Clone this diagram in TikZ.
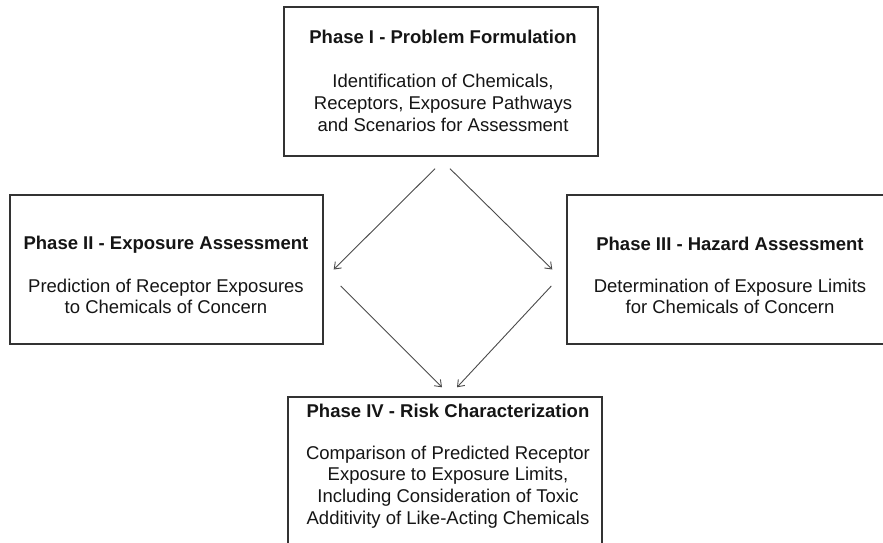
\documentclass[tikz,border=0pt]{standalone}
\usepackage{fontspec}
\setmainfont{Liberation Sans}
\usetikzlibrary{arrows.meta}
\definecolor{boxgray}{HTML}{333333}
\definecolor{arrgray}{HTML}{4A4A4A}
\definecolor{txtgray}{HTML}{151515}
\begin{document}
\begin{tikzpicture}[x=1pt,y=1pt,
  box/.style={draw=boxgray, line width=1.4pt, inner sep=0pt},
  txt/.style={anchor=base, inner sep=0pt, text=txtgray, font=\fontsize{18.5}{21.7}\selectfont},
  arr/.style={draw=arrgray, line width=0.9pt, -{Straight Barb[length=6pt,width=9pt]}}]
\useasboundingbox (0,0) rectangle (883,-543);
\fill[white] (0,0) rectangle (883,-543);
\clip (0,0) rectangle (883,-543);
% boxes
\node[box, minimum width=314pt, minimum height=149pt] (T) at (441,-81.5) {};
\node[box, minimum width=313pt, minimum height=149pt] (L) at (166.5,-269.5) {};
\node[box, minimum width=326pt, minimum height=149pt] (R) at (730,-269.5) {};
\node[box, minimum width=314pt, minimum height=160pt] (B) at (445,-477) {};
% texts
\node[txt] (Tt) at (443,-44) {\begin{tabular}[t]{@{}c@{}}\textbf{Phase I - Problem Formulation}\\[22.3pt]
Identification of Chemicals,\\ Receptors, Exposure Pathways\\ and Scenarios for Assessment\end{tabular}};
\node[txt] (Lt) at (166,-249) {\begin{tabular}[t]{@{}c@{}}\textbf{Phase II - Exposure Assessment}\\[21.3pt]
Prediction of Receptor Exposures\\ to Chemicals of Concern\end{tabular}};
\node[txt] (Rt) at (730,-250) {\begin{tabular}[t]{@{}c@{}}\textbf{Phase III - Hazard Assessment}\\[20.3pt]
Determination of Exposure Limits\\ for Chemicals of Concern\end{tabular}};
\node[txt] (Bt) at (448,-417) {\begin{tabular}[t]{@{}c@{}}\textbf{Phase IV - Risk Characterization}\\[20.3pt]
Comparison of Predicted Receptor\\ Exposure to Exposure Limits,\\ Including Consideration of Toxic\\ Additivity of Like-Acting Chemicals\end{tabular}};
% connectors
\draw[arr] ([shift={(-6pt,-12pt)}]T.south) -- ([xshift=10pt]L.east);
\draw[arr] ([shift={(9pt,-12pt)}]T.south) -- ([xshift=-14pt]R.west);
\draw[arr] ([shift={(17pt,-16.5pt)}]L.east) -- ([shift={(-3pt,9pt)}]B.north);
\draw[arr] ([shift={(-15pt,-16.5pt)}]R.west) -- ([shift={(12pt,9pt)}]B.north);
\end{tikzpicture}
\end{document}
